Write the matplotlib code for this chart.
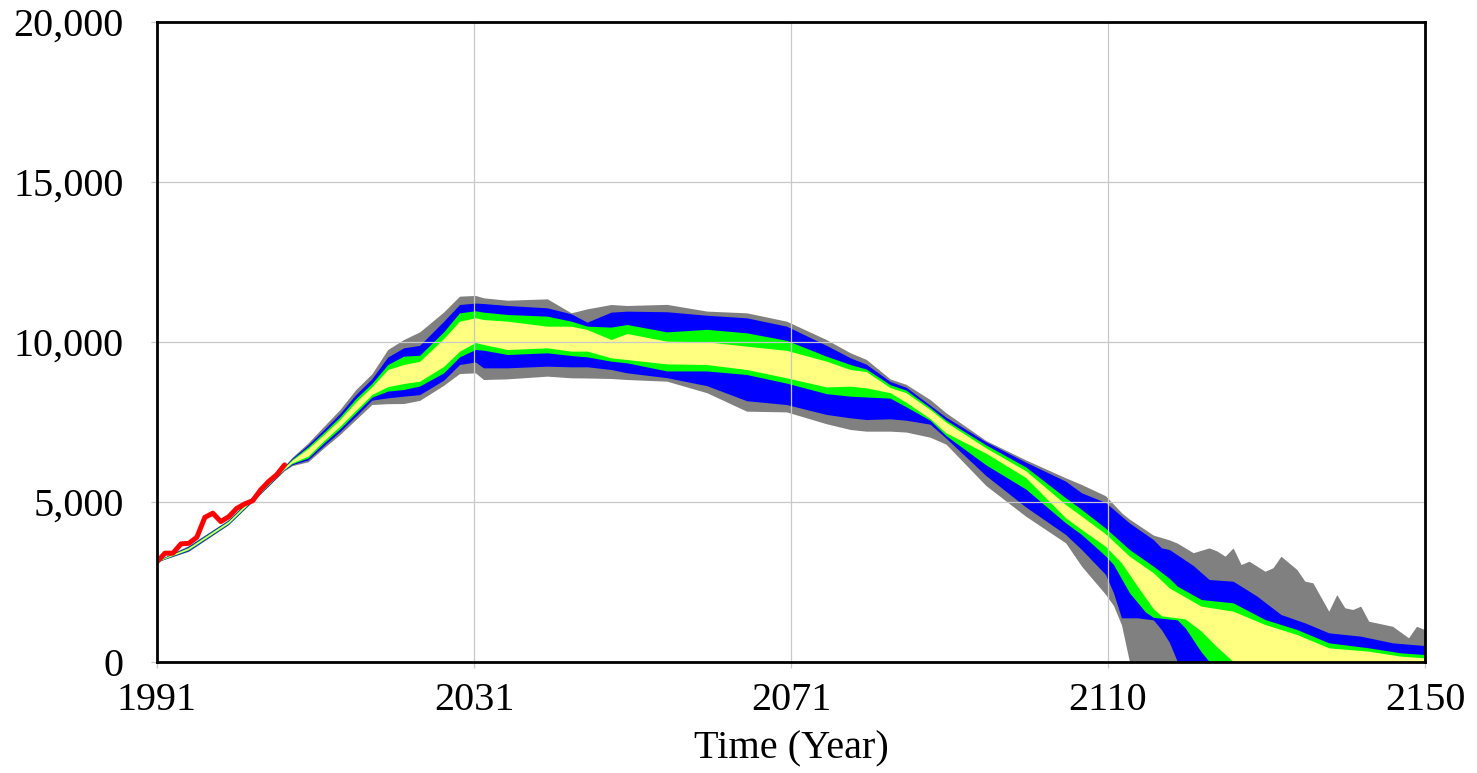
import numpy as np
import matplotlib
matplotlib.use("Agg")
import matplotlib.pyplot as plt

# ── Sensitivity bands ─────────────────────────────────────────────
years = [1991, 1995, 2000, 2005, 2007, 2008, 2010, 2012, 2014, 2016,
         2018, 2020, 2022, 2024, 2027, 2029, 2031, 2032, 2035, 2040,
         2043, 2045, 2048, 2050, 2055, 2060, 2065, 2070, 2075, 2078,
         2080, 2083, 2085, 2088, 2090, 2095, 2100, 2105, 2107, 2110]

gray_hi = [3150, 3620, 4430, 5650, 6100, 6380, 6830, 7354, 7875, 8500,
           8990, 9750, 10062, 10300, 10920, 11417, 11440, 11365, 11290, 11333,
           10896, 11020, 11156, 11125, 11160, 10950, 10896, 10635, 10060, 9646,
           9440, 8830, 8660, 8187, 7771, 6906, 6300, 5740, 5531, 5180]
blue_hi = [3145, 3600, 4415, 5635, 6085, 6350, 6770, 7250, 7750, 8344,
           8833, 9515, 9802, 9880, 10630, 11156, 11200, 11187, 11125, 11052,
           10865, 10604, 10917, 10948, 10930, 10820, 10740, 10480, 9880, 9490,
           9290, 8750, 8570, 8010, 7635, 6865, 6230, 5635, 5271, 4970]
green_hi = [3140, 3575, 4395, 5615, 6070, 6320, 6710, 7166, 7646, 8219,
            8687, 9280, 9542, 9570, 10300, 10896, 10960, 10917, 10844, 10792,
            10635, 10480, 10450, 10531, 10300, 10380, 10271, 10036, 9540, 9281,
            9140, 8650, 8480, 7937, 7542, 6771, 6080, 5115, 4750, 4170]
yel_hi = [3135, 3555, 4375, 5590, 6055, 6290, 6650, 7094, 7562, 8115,
          8583, 9125, 9281, 9380, 10090, 10635, 10740, 10687, 10635, 10479,
          10479, 10375, 10062, 10250, 10010, 9990, 9854, 9724, 9385, 9125,
          9060, 8560, 8400, 7875, 7479, 6677, 5960, 4906, 4542, 3990]
yel_lo = [3125, 3505, 4325, 5530, 6005, 6210, 6420, 6906, 7354, 7854,
          8344, 8590, 8687, 8760, 9220, 9698, 9970, 9906, 9750, 9802,
          9698, 9700, 9490, 9437, 9300, 9280, 9125, 8865, 8580, 8604,
          8552, 8400, 8100, 7594, 7146, 6510, 5750, 4490, 4125, 3600]
green_lo = [3120, 3485, 4305, 5505, 5990, 6180, 6360, 6833, 7271, 7771,
            8260, 8450, 8500, 8610, 9020, 9521, 9750, 9729, 9594, 9646,
            9562, 9520, 9385, 9333, 9080, 9080, 8969, 8700, 8370, 8292,
            8266, 8230, 7960, 7540, 7060, 6146, 5390, 4333, 3969, 3300]
blue_lo = [3115, 3460, 4285, 5485, 5975, 6150, 6300, 6750, 7187, 7667,
           8167, 8240, 8292, 8340, 8790, 9281, 9360, 9177, 9177, 9229,
           9208, 9210, 9125, 9021, 8870, 8620, 8150, 8030, 7720, 7615,
           7562, 7583, 7540, 7417, 6980, 5812, 4830, 3969, 3500, 2720]
gray_lo = [3110, 3440, 4270, 5470, 5960, 6120, 6240, 6677, 7094, 7562,
           8031, 8057, 8062, 8160, 8630, 9000, 9020, 8812, 8833, 8917,
           8865, 8860, 8844, 8812, 8760, 8400, 7823, 7800, 7430, 7250,
           7198, 7198, 7170, 7010, 6792, 5500, 4540, 3708, 2979, 2100]

# tails after 2110, each boundary on its own years
gray_hi_tail_yrs = [2112, 2113, 2116, 2118, 2119, 2121, 2123, 2124, 2125, 2126,
                    2127, 2128, 2130, 2131, 2132, 2134, 2135, 2136, 2138, 2139,
                    2140, 2141, 2142, 2143, 2146, 2148, 2149, 2150]
gray_hi_tail = [4650, 4450, 3950, 3800, 3700, 3400, 3550, 3450, 3290, 3550,
                3030, 3135, 2820, 2930, 3290, 2875, 2510, 2460, 1570, 2090,
                1680, 1625, 1730, 1260, 1100, 740, 1100, 1000]
blue_hi_tail_yrs = [2113, 2116, 2117, 2118, 2121, 2123, 2126, 2129, 2132, 2135,
                    2138, 2142, 2146, 2150]
blue_hi_tail = [4330, 3810, 3552, 3500, 3000, 2562, 2510, 2042, 1469, 1208,
                896, 792, 583, 500]
green_hi_tail_yrs = [2113, 2116, 2118, 2119, 2122, 2126, 2130, 2134, 2138, 2143,
                     2147, 2150]
green_hi_tail = [3500, 2979, 2600, 2354, 1937, 1833, 1312, 1000, 583, 427,
                 271, 219]
yel_hi_tail_yrs = [2113, 2116, 2118, 2122, 2126, 2130, 2134, 2138, 2143, 2147,
                   2150]
yel_hi_tail = [3292, 2771, 2300, 1729, 1573, 1156, 844, 427, 323, 167, 115]
yel_lo_tail_yrs = [2112, 2114, 2116, 2117, 2120, 2122, 2124, 2126, 2150]
yel_lo_tail = [3083, 2354, 1650, 1430, 1330, 950, 450, 0, 0]
green_lo_tail_yrs = [2111, 2113, 2115, 2116, 2119, 2120, 2122, 2123, 2150]
green_lo_tail = [3031, 2150, 1550, 1380, 1300, 1050, 300, 0, 0]
blue_lo_tail_yrs = [2111, 2112, 2114, 2116, 2117, 2118, 2119, 2150]
blue_lo_tail = [2146, 1365, 1365, 1300, 1000, 600, 0, 0]
gray_lo_tail_yrs = [2111, 2112, 2113, 2150]
gray_lo_tail = [1750, 1150, 0, 0]

# historical data (red)
hist_years = list(range(1991, 2008))
hist_vals = [3130, 3400, 3400, 3690, 3710, 3900, 4520, 4650, 4390, 4540,
             4800, 4940, 5040, 5380, 5640, 5850, 6160]

# axis ticks
x_ticks = [1991, 2030.75, 2070.5, 2110.25, 2150]
x_tick_labels = ["1991", "2031", "2071", "2110", "2150"]
y_ticks = [0, 5000, 10000, 15000, 20000]

plt.rcParams["font.family"] = ["Liberation Serif", "DejaVu Serif"]


def band(ax, hi_x, hi_y, lo_x, lo_y, color):
    xs = np.concatenate([hi_x, lo_x[::-1]])
    ys = np.concatenate([hi_y, lo_y[::-1]])
    ax.fill(xs, ys, color=color, lw=0, zorder=1)


fig = plt.figure(figsize=(14.77, 7.73), dpi=100)
ax = fig.add_axes([157 / 1477, 1 - 662 / 773, (1425 - 157) / 1477, 640 / 773])

layers = [
    (gray_hi, gray_hi_tail_yrs, gray_hi_tail, gray_lo, gray_lo_tail_yrs, gray_lo_tail, "#808080"),
    (blue_hi, blue_hi_tail_yrs, blue_hi_tail, blue_lo, blue_lo_tail_yrs, blue_lo_tail, "#0000ff"),
    (green_hi, green_hi_tail_yrs, green_hi_tail, green_lo, green_lo_tail_yrs, green_lo_tail, "#00ff00"),
    (yel_hi, yel_hi_tail_yrs, yel_hi_tail, yel_lo, yel_lo_tail_yrs, yel_lo_tail, "#ffff80"),
]
for hi, hi_ty, hi_t, lo, lo_ty, lo_t, col in layers:
    hx = np.array(years + hi_ty, dtype=float)
    hy = np.array(hi + hi_t, dtype=float)
    lx = np.array(years + lo_ty, dtype=float)
    ly = np.array(lo + lo_t, dtype=float)
    band(ax, hx, hy, lx, ly, col)

ax.plot(hist_years, hist_vals, color="#ff0000", lw=3.6, zorder=3,
        solid_joinstyle="round", solid_capstyle="round")

# ── Axes styling ──────────────────────────────────────────────────
ax.set_xlim(1991, 2150)
ax.set_ylim(0, 20000)
ax.set_xticks(x_ticks)
ax.set_xticklabels(x_tick_labels)
ax.set_yticks(y_ticks)
ax.set_yticklabels([f"{v:,}" for v in y_ticks])
ax.grid(True, color="#c8c8c8", lw=0.9, zorder=2.5)
ax.set_axisbelow(False)
for sp in ax.spines.values():
    sp.set_linewidth(2)
    sp.set_color("black")
    sp.set_zorder(4)

ax.tick_params(axis="both", labelsize=29, colors="black",
               color="#c8c8c8", length=4, width=0.9)
ax.tick_params(axis="x", pad=10.5)
ax.tick_params(axis="y", pad=20)
ax.set_xlabel("Time (Year)", fontsize=29, labelpad=8)

fig.savefig("out.png", dpi=100)
